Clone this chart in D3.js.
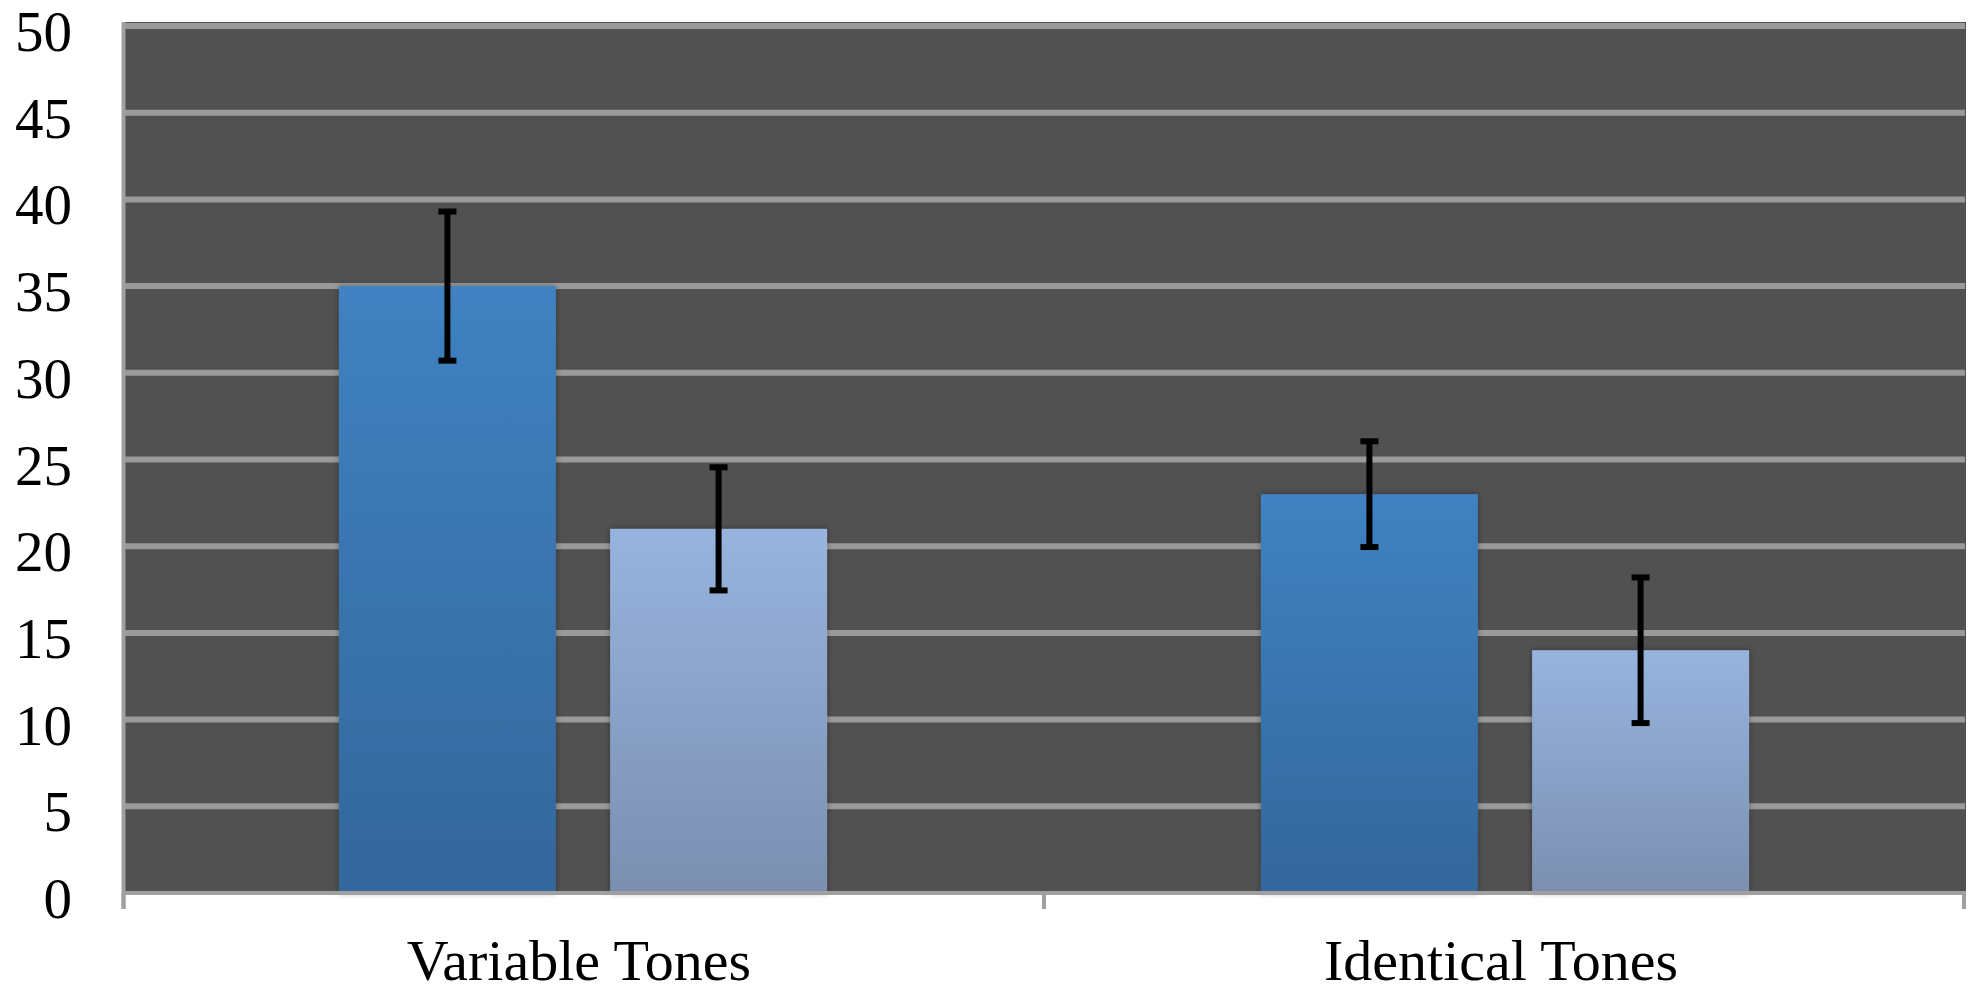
<!DOCTYPE html>
<html>
<head>
<meta charset="utf-8">
<script src="https://cdn.jsdelivr.net/npm/d3@7"></script>
<style>
  html, body { margin: 0; padding: 0; background: #ffffff; }
  svg { display: block; }
</style>
</head>
<body>
<svg id="chart" width="1978" height="994"></svg>
<script>
// ---- data ----
const categories = ["Variable Tones", "Identical Tones"];
const seriesNames = ["Condition A", "Condition B"];
const seriesA = [35.0, 23.0];
const seriesB = [21.0, 14.0];
const errorA = [4.3, 3.05];
const errorB = [3.55, 4.2];
const yTicks = [0, 5, 10, 15, 20, 25, 30, 35, 40, 45, 50];

const svg = d3.select("#chart");
const plotLeft = 122, plotRight = 1966, plotTop = 22, plotBottom = 893;

const y = d3.scaleLinear().domain([0, 50]).range([893, 26]);
const x0 = d3.scaleBand().domain(categories).range([plotLeft, plotRight]).paddingInner(0).paddingOuter(0);
const x1 = d3.scaleBand().domain(seriesNames).range([0, x0.bandwidth()]).paddingInner(0.2).paddingOuter(0.8);

const defs = svg.append("defs");
function grad(id, top, bottom) {
  const g = defs.append("linearGradient").attr("id", id).attr("x1", 0).attr("y1", 0).attr("x2", 0).attr("y2", 1);
  g.append("stop").attr("offset", "0%").attr("stop-color", top);
  g.append("stop").attr("offset", "100%").attr("stop-color", bottom);
}
grad("gA", "#3f82c2", "#33679b");
grad("gB", "#97b4df", "#7b8fb0");
const f = defs.append("filter").attr("id", "shadow").attr("x", "-10%").attr("y", "-10%").attr("width", "120%").attr("height", "120%");
f.append("feDropShadow").attr("dx", 0).attr("dy", 0).attr("stdDeviation", 3).attr("flood-color", "#000").attr("flood-opacity", 0.35);

// plot background
svg.append("rect")
  .attr("x", plotLeft).attr("y", plotTop)
  .attr("width", plotRight - plotLeft).attr("height", plotBottom - plotTop)
  .attr("fill", "#515151");

// gridlines
svg.append("g").selectAll("line").data(yTicks.filter(d => d > 0)).join("line")
  .attr("x1", plotLeft + 3).attr("x2", plotRight - 1)
  .attr("y1", d => y(d)).attr("y2", d => y(d))
  .attr("stroke", "#9a9a9a").attr("stroke-width", 6);

// bars
const data = categories.map((c, i) => [
  { cat: c, s: seriesNames[0], v: seriesA[i], e: errorA[i], fill: "url(#gA)" },
  { cat: c, s: seriesNames[1], v: seriesB[i], e: errorB[i], fill: "url(#gB)" }
]).flat();

svg.append("g").selectAll("rect").data(data).join("rect")
  .attr("x", d => x0(d.cat) + x1(d.s))
  .attr("y", d => y(d.v))
  .attr("width", x1.bandwidth())
  .attr("height", d => y(0) - y(d.v))
  .attr("fill", d => d.fill)
  .attr("filter", "url(#shadow)");

// axes lines
const axisColor = "#a0a0a0";
svg.append("line").attr("x1", 123.5).attr("x2", 123.5).attr("y1", plotTop).attr("y2", 909)
  .attr("stroke", axisColor).attr("stroke-width", 4);
svg.append("line").attr("x1", plotLeft).attr("x2", plotRight).attr("y1", y(0)).attr("y2", y(0))
  .attr("stroke", axisColor).attr("stroke-width", 4);
const tickXs = categories.map(c => x0(c)).concat([x0(categories[categories.length - 1]) + x0.bandwidth()]);
svg.append("g").selectAll("line").data(tickXs).join("line")
  .attr("x1", (d, i) => i === tickXs.length - 1 ? d - 2 : (i === 0 ? d + 1.5 : d))
  .attr("x2", (d, i) => i === tickXs.length - 1 ? d - 2 : (i === 0 ? d + 1.5 : d))
  .attr("y1", y(0)).attr("y2", 909)
  .attr("stroke", axisColor).attr("stroke-width", 4);

// error bars
const eb = svg.append("g").selectAll("g").data(data).join("g")
  .attr("transform", d => `translate(${x0(d.cat) + x1(d.s) + x1.bandwidth() / 2},0)`);
eb.append("line").attr("x1", 0).attr("x2", 0)
  .attr("y1", d => y(d.v + d.e)).attr("y2", d => y(d.v - d.e))
  .attr("stroke", "#000").attr("stroke-width", 6);
eb.append("line").attr("x1", -9).attr("x2", 9)
  .attr("y1", d => y(d.v + d.e)).attr("y2", d => y(d.v + d.e))
  .attr("stroke", "#000").attr("stroke-width", 6);
eb.append("line").attr("x1", -9).attr("x2", 9)
  .attr("y1", d => y(d.v - d.e)).attr("y2", d => y(d.v - d.e))
  .attr("stroke", "#000").attr("stroke-width", 6);

// y labels
svg.append("g").selectAll("text").data(yTicks).join("text")
  .attr("x", 72).attr("y", d => y(d)).attr("dy", "0.44em")
  .attr("text-anchor", "end")
  .attr("font-family", "'Liberation Serif', 'Times New Roman', serif")
  .attr("font-size", 57).attr("fill", "#000")
  .text(d => d);

// x labels
svg.append("g").selectAll("text").data(categories).join("text")
  .attr("x", d => x0(d) + x0.bandwidth() / 2 - 4).attr("y", 980)
  .attr("text-anchor", "middle")
  .attr("font-family", "'Liberation Serif', 'Times New Roman', serif")
  .attr("font-size", 58).attr("fill", "#000")
  .text(d => d);
</script>
</body>
</html>
